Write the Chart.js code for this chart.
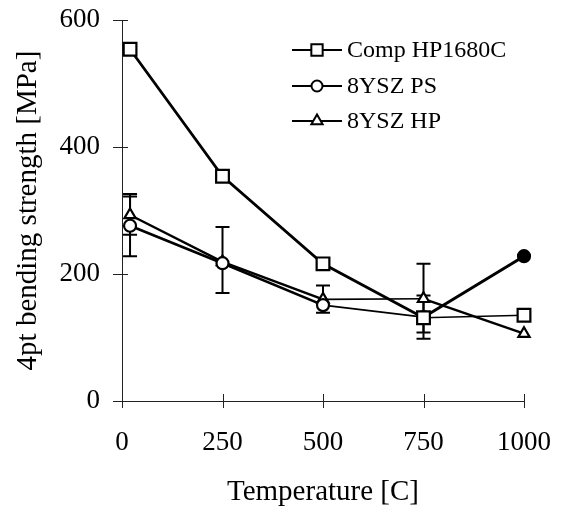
<!DOCTYPE html>
<html>
<head>
<meta charset="utf-8">
<script src="https://cdn.jsdelivr.net/npm/chart.js@4.4.0/dist/chart.umd.min.js"></script>
<style>
  html, body { margin: 0; padding: 0; background: #fff; }
</style>
</head>
<body>
<canvas id="grafico" width="565" height="514"></canvas>
<script>
//  dados
const temperaturas = [20, 250, 500, 750, 1000];
const compHP = [554, 354, 216, 131, 135];
const ysPS = [276, 217, 151, 132, 228];
const ysHP = [293, 219, 160, 161, 106];

//  barras de erro (null = sem barra)
const psErrMin = [228, 170, null, 98, null];
const psErrMax = [322, 274, null, 166, null];
const hpErrMin = [262, null, 139, 108, null];
const hpErrMax = [326, null, 182, 216, null];

const xTicks = [0, 250, 500, 750, 1000];
const yTicks = [0, 200, 400, 600];
const nomes = ["Comp HP1680C", "8YSZ PS", "8YSZ HP"];

const FONTE = "'Liberation Serif', 'Times New Roman', serif";

function pontos(vals) {
  return temperaturas.map((t, i) => ({ x: t, y: vals[i] }));
}

//  barras de erro + marcas dos eixos
const extras = {
  id: "extras",
  beforeDatasetsDraw(chart) {
    const { ctx, scales: { x, y } } = chart;
    const series = [[psErrMin, psErrMax], [hpErrMin, hpErrMax]];
    ctx.save();
    ctx.strokeStyle = "#000";
    ctx.lineWidth = 2;
    series.forEach(([lo, hi]) => {
      temperaturas.forEach((t, i) => {
        if (lo[i] == null) return;
        const px = x.getPixelForValue(t);
        const y1 = y.getPixelForValue(lo[i]);
        const y2 = y.getPixelForValue(hi[i]);
        ctx.beginPath();
        ctx.moveTo(px, y1); ctx.lineTo(px, y2);
        ctx.moveTo(px - 7, y1); ctx.lineTo(px + 7, y1);
        ctx.moveTo(px - 7, y2); ctx.lineTo(px + 7, y2);
        ctx.stroke();
      });
    });
    ctx.restore();
  },
  afterDraw(chart) {
    const { ctx, chartArea: a, scales: { x, y } } = chart;
    ctx.save();
    ctx.strokeStyle = "#222";
    ctx.lineWidth = 1;
    yTicks.forEach(v => {
      const py = Math.round(y.getPixelForValue(v)) + 0.5;
      ctx.beginPath(); ctx.moveTo(a.left - 9, py); ctx.lineTo(a.left + 6, py); ctx.stroke();
    });
    xTicks.forEach(v => {
      const px = Math.round(x.getPixelForValue(v)) + 0.5;
      ctx.beginPath(); ctx.moveTo(px, a.bottom - 7); ctx.lineTo(px, a.bottom + 7); ctx.stroke();
    });

    //  legenda
    const estilos = [
      { pointStyle: "rect", radius: 8 },
      { pointStyle: "circle", radius: 5.5 },
      { pointStyle: "triangle", radius: 6.5 }
    ];
    const linhas = [50, 86, 121];
    ctx.font = "24px " + FONTE;
    ctx.textBaseline = "middle";
    ctx.textAlign = "left";
    nomes.forEach((nome, i) => {
      const ly = linhas[i];
      ctx.strokeStyle = "#000";
      ctx.lineWidth = 2;
      ctx.beginPath(); ctx.moveTo(292, ly); ctx.lineTo(342, ly); ctx.stroke();
      ctx.fillStyle = "#fff";
      Chart.helpers.drawPoint(ctx, { ...estilos[i], borderWidth: 2, rotation: 0 }, 317, ly);
      ctx.fillStyle = "#000";
      ctx.fillText(nome, 347, ly + 1);
    });
    ctx.restore();
  }
};

new Chart(document.getElementById("grafico"), {
  type: "line",
  data: {
    datasets: [
      {
        label: nomes[0],
        data: pontos(compHP),
        clip: false,
        borderColor: "#000",
        borderWidth: 2.8,
        segment: { borderWidth: c => (c.p0DataIndex === 3 ? 1.6 : 2.8) },
        pointStyle: "rect",
        pointRadius: 9,
        pointBorderWidth: 2.2,
        pointBackgroundColor: "#fff",
        pointBorderColor: "#000"
      },
      {
        label: nomes[1],
        data: pontos(ysPS),
        clip: false,
        borderColor: "#000",
        borderWidth: 2.6,
        segment: { borderWidth: c => (c.p0DataIndex === 2 ? 1.8 : c.p0DataIndex === 3 ? 3 : 2.6) },
        pointStyle: "circle",
        pointRadius: 6,
        pointBorderWidth: 2.2,
        pointBackgroundColor: ["#fff", "#fff", "#fff", "#fff", "#000"],
        pointBorderColor: "#000"
      },
      {
        label: nomes[2],
        data: pontos(ysHP),
        clip: false,
        borderColor: "#000",
        borderWidth: 2.4,
        segment: { borderWidth: c => (c.p0DataIndex === 2 ? 1.6 : 2.4) },
        pointStyle: "triangle",
        pointRadius: 6.5,
        pointBorderWidth: 2.2,
        pointBackgroundColor: "#fff",
        pointBorderColor: "#000"
      }
    ]
  },
  options: {
    responsive: false,
    animation: false,
    devicePixelRatio: 1,
    layout: { padding: { top: 20, right: 41, left: 0, bottom: 0 } },
    plugins: {
      legend: { display: false },
      tooltip: { enabled: false }
    },
    scales: {
      x: {
        type: "linear",
        min: 0,
        max: 1000,
        afterBuildTicks: s => { s.ticks = xTicks.map(v => ({ value: v })); },
        afterFit: s => { s.height = 113; s.paddingLeft = 0; s.paddingRight = 0; },
        grid: { display: false, drawTicks: false },
        border: { display: true, color: "#222", width: 1 },
        ticks: {
          color: "#000",
          padding: 26,
          maxRotation: 0,
          font: { family: FONTE, size: 27 },
          callback: v => String(v)
        },
        title: {
          display: true,
          text: "Temperature [C]",
          color: "#000",
          font: { family: FONTE, size: 29 },
          padding: { top: 0, bottom: 4 }
        }
      },
      y: {
        min: 0,
        max: 600,
        afterBuildTicks: s => { s.ticks = yTicks.map(v => ({ value: v })); },
        afterFit: s => { s.width = 122; s.paddingTop = 0; s.paddingBottom = 0; },
        grid: { display: false, drawTicks: false },
        border: { display: true, color: "#222", width: 1 },
        ticks: {
          color: "#000",
          padding: 22,
          font: { family: FONTE, size: 27 },
          callback: v => String(v)
        },
        title: {
          display: true,
          text: "4pt bending strength [MPa]",
          color: "#000",
          font: { family: FONTE, size: 29 },
          padding: { top: 11, bottom: 0 }
        }
      }
    }
  },
  plugins: [extras]
});
</script>
</body>
</html>
